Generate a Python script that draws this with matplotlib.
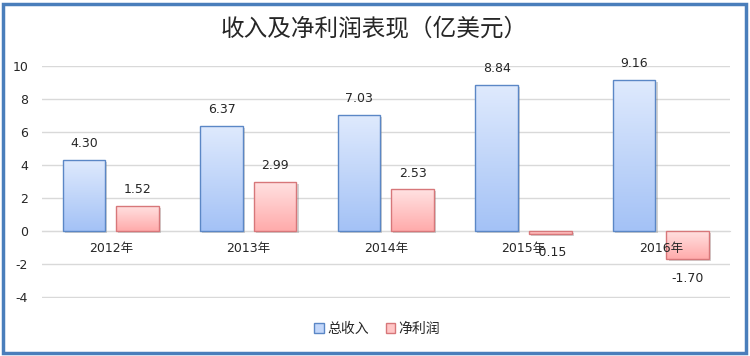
import matplotlib
matplotlib.use('Agg')
import matplotlib.pyplot as plt
import matplotlib.patheffects as pe
from matplotlib.colors import LinearSegmentedColormap
from matplotlib.patches import Patch, Rectangle
import numpy as np

plt.rcParams['font.family'] = ['DejaVu Sans', 'Noto Sans CJK SC']
plt.rcParams['axes.unicode_minus'] = False

years = ['2012年', '2013年', '2014年', '2015年', '2016年']
revenue = [4.30, 6.37, 7.03, 8.84, 9.16]
profit = [1.52, 2.99, 2.53, -0.15, -1.70]
series_names = ['总收入', '净利润']
title = '收入及净利润表现（亿美元）'

blue_top, blue_bot, blue_edge = '#dfeafd', '#a4c2f6', '#5b87c6'
red_top, red_bot, red_edge = '#ffe2e2', '#ffabab', '#d7777a'

fig = plt.figure(figsize=(7.5, 3.56), dpi=100)
ax = fig.add_axes([0.056, 0.163, 0.917, 0.652])

x = np.arange(len(years))
w = 0.31
off = 0.195

def gradient_bars(xs, vals, top, bot, edge):
    bars = ax.bar(xs, vals, w, facecolor=bot, edgecolor='none', zorder=2)
    cmap = LinearSegmentedColormap.from_list('g', [top, bot])
    grad = np.linspace(0, 1, 64).reshape(-1, 1)
    for b in bars:
        b.set_path_effects([pe.SimplePatchShadow(offset=(1.5, -1.5), shadow_rgbFace='#808080', alpha=0.35), pe.Normal()])
        x0, y0 = b.get_x(), b.get_y()
        x1, y1 = x0 + b.get_width(), y0 + b.get_height()
        img = ax.imshow(grad, cmap=cmap, aspect='auto', extent=(x0, x1, min(y0, y1), max(y0, y1)),
                        origin='upper', zorder=2.5, interpolation='bilinear')
        img.set_clip_path(b)
    ax.bar(xs, vals, w, facecolor='none', edgecolor=edge, linewidth=1.0, zorder=3)
    for xi, v in zip(xs, vals):
        if v >= 0:
            ax.annotate(f'{v:.2f}', (xi, v), xytext=(0, 7), textcoords='offset points',
                        ha='center', va='bottom', fontsize=9, color='#262626', zorder=4)
        else:
            ax.annotate(f'{v:.2f}', (xi, v), xytext=(0, -9), textcoords='offset points',
                        ha='center', va='top', fontsize=9, color='#262626', zorder=4)

gradient_bars(x - off, revenue, blue_top, blue_bot, blue_edge)
gradient_bars(x + off, profit, red_top, red_bot, red_edge)

ax.set_xlim(-0.5, len(years) - 0.5)
ax.set_ylim(-4.05, 10)
ax.set_yticks(np.arange(-4, 11, 2))
ax.yaxis.grid(True, color='#d9d9d9', linewidth=1.0, zorder=0)
ax.set_axisbelow(True)
ax.xaxis.set_zorder(5)
for s in ['top', 'right', 'left']:
    ax.spines[s].set_visible(False)
ax.spines['bottom'].set_position(('data', 0))
ax.spines['bottom'].set_color('#d9d9d9')
ax.spines['bottom'].set_zorder(0.5)
ax.set_xticks(x)
ax.set_xticklabels(years)
ax.tick_params(axis='x', length=0, pad=8, labelsize=9, colors='#262626')
ax.tick_params(axis='y', length=0, pad=10, labelsize=9, colors='#262626')

fig.text(0.499, 1 - 29 / 356, title, ha='center', va='center', fontsize=17,
         color='#262626', family=['Noto Sans CJK SC', 'DejaVu Sans'])

handles = [Patch(facecolor='#c3d7fa', edgecolor=blue_edge, linewidth=1.0),
           Patch(facecolor='#ffc6c6', edgecolor=red_edge, linewidth=1.0)]
fig.legend(handles, series_names, loc='center', bbox_to_anchor=(0.503, 0.076),
           bbox_transform=fig.transFigure, ncol=2, frameon=False, fontsize=10,
           handlelength=0.7, handleheight=0.7, handletextpad=0.25, columnspacing=1.2,
           labelcolor='#262626')

fig.patches.append(Rectangle((0.004, 0.0084), 0.9907, 0.980, transform=fig.transFigure,
                             fill=False, edgecolor='#4a7ebb', linewidth=2.5, zorder=10))

fig.savefig('out.png', dpi=100)
